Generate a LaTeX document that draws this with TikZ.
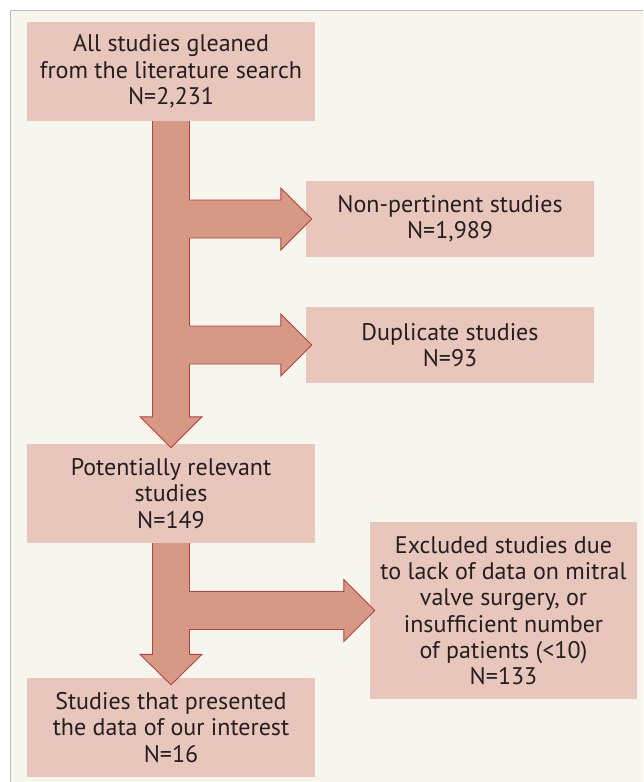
\documentclass[tikz,border=0pt]{standalone}
\usepackage{fontspec}
\setmainfont{PT Sans}
\usetikzlibrary{calc}
\definecolor{boxfill}{HTML}{E8C6BB}
\definecolor{arrowfill}{HTML}{D69986}
\definecolor{arrowline}{HTML}{B8403E}
\definecolor{paper}{HTML}{F6F5EE}
\definecolor{ink}{HTML}{231F20}
\begin{document}
\begin{tikzpicture}[x=1pt, y=-1pt,
    box/.style={fill=boxfill, text=ink, align=center, inner sep=0pt, font=\fontsize{24}{26.3}\selectfont},
    flow/.style={fill=arrowfill, draw=arrowline, line width=0.9pt, line join=miter}]
    \useasboundingbox (0,0) rectangle (643,782);
    \fill[paper] (10.7,10.7) rectangle (643,782);
    \draw[black!25, line width=1.2pt] (643,10.7)--(10.7,10.7)--(10.7,782);

    \node[box, minimum width=288, minimum height=99] (all) at (171,71.5) {All studies gleaned\\from the literature search\\N=2,231};
    \node[box, minimum width=288, minimum height=76] (nonpert) at (450,219) {Non-pertinent studies\\N=1,989};
    \node[box, minimum width=288, minimum height=76] (dup) at (450,345) {Duplicate studies\\N=93};
    \node[box, minimum width=288, minimum height=99] (pot) at (171,493.5) {Potentially relevant\\studies\\N=149};
    \node[box, minimum width=267, minimum height=177] (excl) at (503.5,610.5) {Excluded studies due\\to lack of data on mitral\\valve surgery, or\\insufficient number\\of patients (<10)\\N=133};
    \node[box, minimum width=288, minimum height=99] (stud) at (171,727.5) {Studies that presented\\the data of our interest\\N=16};

    % first split: search -> excluded ones -> relevant
    \draw[flow] let \p1=(all.south), \p2=(pot.north), \p3=(nonpert.west), \p4=(dup.west) in
        (\x1+18.5pt,\y1)--(\x1+18.5pt,\y3+19pt)--(\x3-25pt,\y3+19pt)--(\x3-25pt,\y3+31pt)--(\x3+6pt,\y3)
        --(\x3-25pt,\y3-31pt)--(\x3-25pt,\y3-19pt)--(\x1+18.5pt,\y3-19pt)
        --(\x1+18.5pt,\y4+19pt)--(\x4-25pt,\y4+19pt)--(\x4-25pt,\y4+31pt)--(\x4+6pt,\y4)
        --(\x4-25pt,\y4-31pt)--(\x4-25pt,\y4-19pt)--(\x1+18.5pt,\y4-19pt)
        --(\x1+18.5pt,\y2+27pt)--(\x1+31pt,\y2+27pt)--(\x1,\y2-4pt)--(\x1-31pt,\y2+27pt)
        --(\x1-18.5pt,\y2+27pt)--(\x1-18.5pt,\y1);

    % second split: relevant -> excluded / included
    \draw[flow] let \p1=(pot.south), \p2=(stud.north), \p3=(excl.west) in
        (\x1+18.5pt,\y1)--(\x1+18.5pt,\y3+19pt)--(\x3-26pt,\y3+19pt)--(\x3-26pt,\y3+31pt)--(\x3+5pt,\y3)
        --(\x3-26pt,\y3-31pt)--(\x3-26pt,\y3-19pt)--(\x1+18.5pt,\y3-19pt)
        --(\x1+18.5pt,\y2+23.5pt)--(\x1+31pt,\y2+23.5pt)--(\x1,\y2-7pt)--(\x1-31pt,\y2+23.5pt)
        --(\x1-18.5pt,\y2+23.5pt)--(\x1-18.5pt,\y1);
\end{tikzpicture}
\end{document}
